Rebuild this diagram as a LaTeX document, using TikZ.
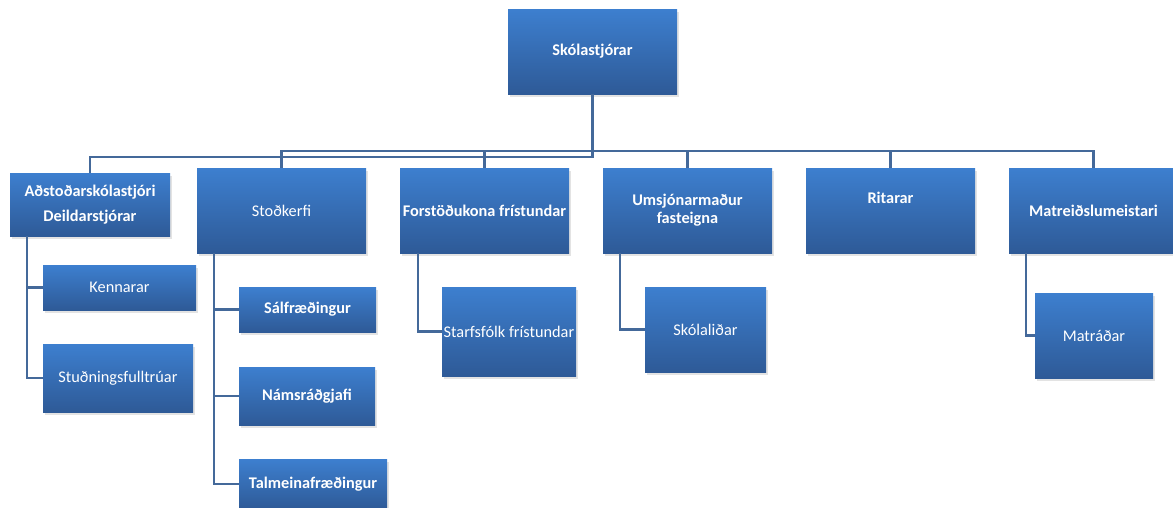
\documentclass[tikz,border=0pt]{standalone}
\usepackage{fontspec}
\setmainfont{Carlito}
\usetikzlibrary{shadows}
\definecolor{boxtop}{HTML}{3D7FCF}
\definecolor{boxbot}{HTML}{2E5A97}
\definecolor{connc}{HTML}{44699A}
\begin{document}
\begin{tikzpicture}[x=1pt,y=-1pt,
  box/.style={draw=none, top color=boxtop, bottom color=boxbot, inner sep=0pt, outer sep=0pt,
    text=white, align=center, font=\fontsize{16.3}{19.5}\selectfont,
    drop shadow={opacity=0.22, shadow xshift=1.5pt, shadow yshift=-3pt}},
  bbox/.style={box, font=\fontsize{16.3}{18}\selectfont\bfseries},
  txt/.style={text=white, inner sep=0pt, font=\fontsize{16.3}{19.5}\selectfont\bfseries},
  conn/.style={draw=connc, line width=2.3pt}]
\fill[white] (0,0) rectangle (1173,507);
\useasboundingbox (0,0) rectangle (1173,507);

% top
\node[bbox, minimum width=169pt, minimum height=85pt] (root) at (592.5,51.5) {Skólastjórar};

% second row
\node[bbox, minimum width=160pt, minimum height=63pt] (adst) at (90,204.5) {Aðstoðarskólastjóri\\[7pt]Deildarstjórar};
\node[box, minimum width=169pt, minimum height=85pt] (stod) at (281.5,210.5) {Stoðkerfi};
\node[bbox, minimum width=169pt, minimum height=85pt] (forst) at (484.5,210.5) {Forstöðukona frístundar};
\node[bbox, minimum width=169pt, minimum height=85pt] (umsj) at (687.5,210.5) {Umsjónarmaður\\fasteigna};
\node[box, minimum width=169pt, minimum height=85pt] (rit) at (890.5,210.5) {};
\node[txt] (rit-t) at (890.5,198) {Ritarar};
\node[bbox, minimum width=169pt, minimum height=85pt] (matm) at (1093.5,210.5) {Matreiðslumeistari};

% third level
\node[box, minimum width=153pt, minimum height=45pt] (kenn) at (119.5,287.5) {Kennarar};
\node[box, minimum width=150pt, minimum height=68pt] (studn) at (118,378) {Stuðningsfulltrúar};
\node[bbox, minimum width=137pt, minimum height=45pt] (salf) at (307.5,309.5) {Sálfræðingur};
\node[bbox, minimum width=136pt, minimum height=58pt] (nams) at (307,396) {Námsráðgjafi};
\node[bbox, minimum width=148pt, minimum height=50pt] (talm) at (313,484) {Talmeinafræðingur};
\node[box, minimum width=134pt, minimum height=89pt] (starf) at (509,331.5) {Starfsfólk frístundar};
\node[box, minimum width=121pt, minimum height=85pt] (skol) at (705.5,329.5) {Skólaliðar};
\node[box, minimum width=118pt, minimum height=85pt] (matr) at (1094,335.5) {Matráðar};

% connectors from root
\coordinate (barlo) at (592.5,157);
\coordinate (barhi) at (592.5,151);
\draw[conn] (root.south) -- (barlo) -| (adst.north);
\draw[conn] (barhi) -| (stod.north);
\draw[conn] (barhi) -| (forst.north);
\draw[conn] (barhi) -| (umsj.north);
\draw[conn] (barhi) -| (rit.north);
\draw[conn] (barhi) -| (matm.north);

% sub connectors
\draw[conn] ([xshift=17pt]adst.south west) |- (kenn.west);
\draw[conn] ([xshift=17pt]adst.south west) |- (studn.west);
\draw[conn] ([xshift=17pt]stod.south west) |- (salf.west);
\draw[conn] ([xshift=17pt]stod.south west) |- (nams.west);
\draw[conn] ([xshift=17pt]stod.south west) |- (talm.west);
\draw[conn] ([xshift=18pt]forst.south west) |- (starf.west);
\draw[conn] ([xshift=17pt]umsj.south west) |- (skol.west);
\draw[conn] ([xshift=17pt]matm.south west) |- (matr.west);
\end{tikzpicture}
\end{document}
